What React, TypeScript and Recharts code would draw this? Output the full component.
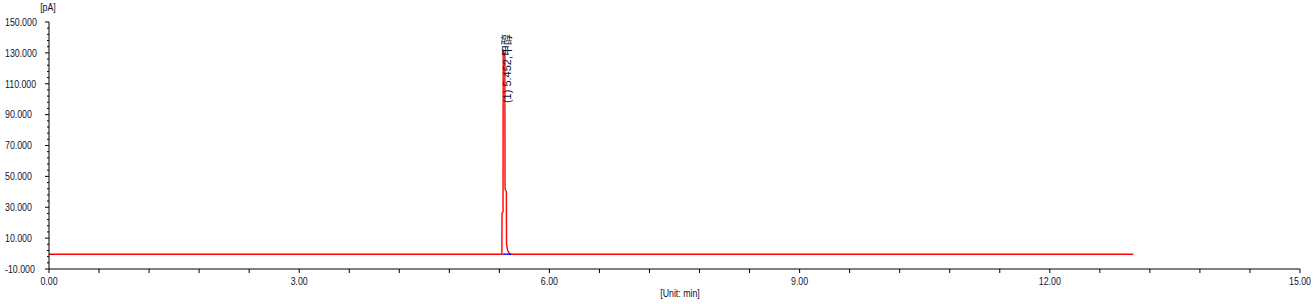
import React from "react";
import { LineChart, Line, XAxis, YAxis, ReferenceDot } from "recharts";

// chromatogram trace (time in min, signal in pA)
const times = [0, 5.43, 5.432, 5.444, 5.446, 5.466, 5.468, 5.484, 5.486, 5.5, 5.52, 5.53, 13.0];
const signal = [-0.4, -0.4, 26, 27, 132, 128, 42, 40, 6, 2, 0, -0.4, -0.4];

// integration baseline under the peak
const baseTimes = [5.44, 5.54];
const baseLevel = [-0.4, -0.4];

const peakTime = 5.452;
const peakLabelLevel = 97.5;
const peakName = "(1) 5.452,甲醇";

const yMajor = [-10, 10, 30, 50, 70, 90, 110, 130, 150];
const xMajor = [0, 3, 6, 9, 12, 15];

const yTicks: number[] = [];
for (let i = 0; i <= 40; i++) yTicks.push(-10 + i * 4);
const xTicks: number[] = [];
for (let i = 0; i <= 25; i++) xTicks.push(Math.round(i * 6) / 10);

const trace = times.map((t, i) => ({ t, v: signal[i] }));
const baseline = baseTimes.map((t, i) => ({ t, v: baseLevel[i] }));

const FONT = "'Liberation Sans', Arial, 'Noto Sans CJK SC', sans-serif";
const INK = "#111133";

// the reference uses a narrow bitmap-like font, so squeeze Liberation Sans horizontally
const NText = ({ x, y, anchor = "start", children }: any) => (
  <text
    transform={`translate(${x},${y}) scale(0.8,1)`}
    textAnchor={anchor}
    dominantBaseline="central"
    fill={INK}
    fontSize={11}
    fontFamily={FONT}
  >
    {children}
  </text>
);

const YTick = (props: any) => {
  const { x, y, payload } = props;
  const major = yMajor.includes(payload.value);
  return (
    <g>
      <line x1={x - (major ? 4 : 2)} x2={x} y1={y} y2={y} stroke="#000" />
      {major && <NText x={x - 44} y={y}>{payload.value.toFixed(3)}</NText>}
    </g>
  );
};

const XTick = (props: any) => {
  const { x, y, payload } = props;
  const major = xMajor.some((m) => Math.abs(m - payload.value) < 1e-6);
  return (
    <g>
      <line x1={x} x2={x} y1={y} y2={y + 4} stroke="#000" />
      {major && <NText x={x} y={y + 12} anchor="middle">{payload.value.toFixed(2)}</NText>}
    </g>
  );
};

const XLabel = (props: any) => {
  const vb = props.viewBox;
  if (!vb) return null;
  return <NText x={vb.x + vb.width / 2 + 5.5} y={vb.y + 24} anchor="middle">[Unit: min]</NText>;
};

const YLabel = (props: any) => {
  const vb = props.viewBox;
  if (!vb) return null;
  return <NText x={vb.x + vb.width - 1} y={vb.y - 15} anchor="middle">[pA]</NText>;
};

const PeakLabel = (props: any) => {
  const { viewBox } = props;
  if (!viewBox) return null;
  const cx = viewBox.x + (viewBox.width || 0) / 2;
  const cy = viewBox.y + (viewBox.height || 0) / 2;
  return (
    <text
      x={cx}
      y={cy}
      dy={3}
      transform={`rotate(-90 ${cx} ${cy})`}
      textAnchor="start"
      dominantBaseline="central"
      fill={INK}
      fontSize={11}
      fontFamily={FONT}
    >
      {peakName}
    </text>
  );
};

export default function App() {
  return (
    <div style={{ position: "absolute", left: 0, top: 0, background: "#fff" }}>
      <LineChart width={1316} height={304} margin={{ top: 22, right: 16, bottom: 0, left: 0 }}>
        <XAxis
          dataKey="t"
          type="number"
          domain={[0, 15]}
          ticks={xTicks}
          interval={0}
          tickSize={0}
          tickMargin={0}
          tickLine={false}
          tick={<XTick />}
          axisLine={{ stroke: "#000" }}
          height={35}
          label={<XLabel />}
        />
        <YAxis
          type="number"
          domain={[-10, 150]}
          ticks={yTicks}
          interval={0}
          tickSize={0}
          tickMargin={0}
          tickLine={false}
          tick={<YTick />}
          axisLine={{ stroke: "#000" }}
          width={49}
          label={<YLabel />}
        />
        <Line data={trace} dataKey="v" type="linear" stroke="#ff0000" strokeWidth={1.4} dot={false} isAnimationActive={false} />
        <Line data={baseline} dataKey="v" type="linear" stroke="#0000ff" strokeWidth={1.4} dot={false} isAnimationActive={false} />
        <ReferenceDot x={peakTime} y={peakLabelLevel} r={0} fill="none" stroke="none" label={<PeakLabel />} />
      </LineChart>
    </div>
  );
}
